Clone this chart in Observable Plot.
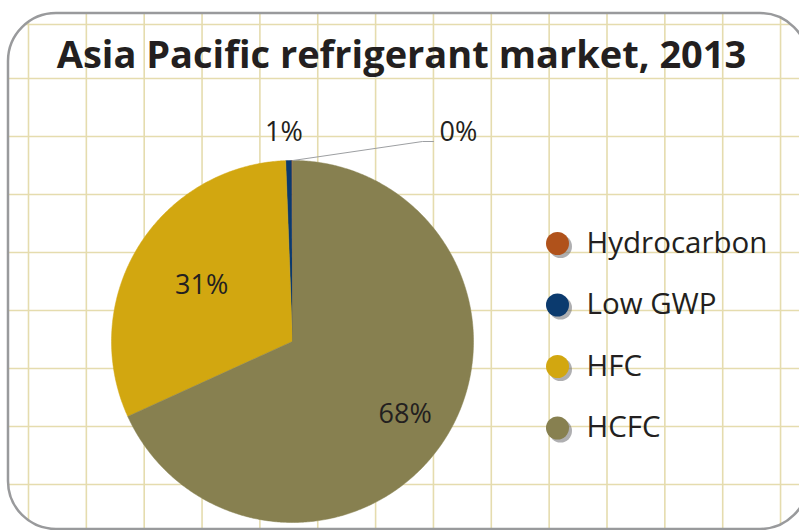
<!DOCTYPE html>
<html><head><meta charset="utf-8">
<script src="https://cdn.jsdelivr.net/npm/d3@7"></script>
<script src="https://cdn.jsdelivr.net/npm/@observablehq/plot@0.6"></script>
<style>
html,body{margin:0;padding:0;background:#fff;overflow:hidden;}
</style></head><body><div id="chart"></div>
<script>
// ---- data ----
const categories = ["Hydrocarbon", "Low GWP", "HFC", "HCFC"];
const shares = [0.1, 0.5, 31.2, 68.2];
const pctLabels = ["0%", "1%", "31%", "68%"];
const colors = ["#b0521b", "#0b3a6e", "#d2a710", "#878050"];
const titleText = "Asia Pacific refrigerant market, 2013";

// ---- layout ----
const W = 799, H = 530;
const cx = 292, cy = 341, R = 181;
const box = {x1: 8, x2: 808, y1: 13, y2: 529, r: 48};
const gridX = d3.range(14).map(i => 28 + i * 57.85);
const gridY = [24, 78, 136, 194, 252, 310, 368, 426, 484];
const labelRadius = [1.16, 1.155, 0.59, 0.74];
const font = "'Open Sans', sans-serif";
const ink = "#231f20";

// grid extents clipped to the rounded box
function vExtent(x) {
  let d = 0;
  if (x < box.x1 + box.r) d = box.x1 + box.r - x;
  else if (x > box.x2 - box.r) d = x - (box.x2 - box.r);
  const off = d > 0 ? box.r - Math.sqrt(Math.max(0, box.r * box.r - d * d)) : 0;
  return [box.y1 + off, box.y2 - off];
}
function hExtent(y) {
  let d = 0;
  if (y < box.y1 + box.r) d = box.y1 + box.r - y;
  else if (y > box.y2 - box.r) d = y - (box.y2 - box.r);
  const off = d > 0 ? box.r - Math.sqrt(Math.max(0, box.r * box.r - d * d)) : 0;
  return [box.x1 + off, Math.min(W, box.x2 - off)];
}
const vLines = gridX.map(x => { const [a, b] = vExtent(x); return {x, y1: a, y2: b}; });
const hLines = gridY.map(y => { const [a, b] = hExtent(y); return {y, x1: a, x2: b}; });

// pie geometry (counter-clockwise from 12 o'clock, legend order)
const arcs = d3.pie().sort(null).startAngle(0).endAngle(-2 * Math.PI)(shares);
const slices = arcs.map((p, i) => {
  const a0 = p.startAngle, a1 = p.endAngle;
  const n = Math.max(2, Math.ceil(Math.abs(a1 - a0) / (Math.PI / 360)));
  const pts = [{x: cx, y: cy}];
  for (let j = 0; j <= n; j++) {
    const a = a0 + (a1 - a0) * j / n;
    pts.push({x: cx + R * Math.sin(a), y: cy - R * Math.cos(a)});
  }
  pts.push({x: cx, y: cy});
  return {key: categories[i], color: colors[i], pts, mid: (a0 + a1) / 2};
});

const inner = slices.map((s, i) => ({
  label: pctLabels[i],
  x: cx + R * labelRadius[i] * Math.sin(s.mid),
  y: cy - R * labelRadius[i] * Math.cos(s.mid),
  i
}));
// outside labels
const lowLab = inner[1];
const hydroMid = slices[0].mid;
const leader = [
  {x: cx + R * Math.sin(hydroMid) + 1, y: cy - R * Math.cos(hydroMid)},
  {x: cx + 130, y: cy - 200},
  {x: cx + 141, y: cy - 200}
];
const hydroLab = {label: pctLabels[0], x: cx + 147, y: cy - 209};

const legend = categories.map((c, i) => ({c, color: colors[i], y: 243 + i * 61.5}));

const marks = [
  Plot.ruleX(vLines, {x: "x", y1: "y1", y2: "y2", stroke: "#e5dcae", strokeWidth: 1.6}),
  Plot.ruleY(hLines, {y: "y", x1: "x1", x2: "x2", stroke: "#e5dcae", strokeWidth: 1.6}),
  Plot.rect([box], {x1: "x1", x2: "x2", y1: "y1", y2: "y2", rx: box.r, fill: "none", stroke: "#999a9c", strokeWidth: 2.5}),
  Plot.text([titleText], {x: () => 401, y: () => 67, text: d => d, textAnchor: "middle", lineAnchor: "bottom",
    fontFamily: font, fontWeight: "bold", fontSize: 38, fill: ink}),
  ...slices.map(s => Plot.line(s.pts, {x: "x", y: "y", fill: s.color, stroke: s.color, strokeWidth: 0.5, curve: "linear"})),
  Plot.line(leader, {x: "x", y: "y", stroke: "#9d9fa2", strokeWidth: 1}),
  Plot.text(inner.slice(2), {x: "x", y: "y", text: "label", textAnchor: "middle", lineAnchor: "middle",
    fontFamily: font, fontSize: 27, fill: ink}),
  Plot.text([lowLab], {x: "x", y: "y", dx: -4, text: "label", textAnchor: "middle", lineAnchor: "middle",
    fontFamily: font, fontSize: 27, fill: ink}),
  Plot.text([hydroLab], {x: "x", y: "y", text: "label", textAnchor: "start", lineAnchor: "middle",
    fontFamily: font, fontSize: 27, fill: ink}),
  Plot.dot(legend, {x: () => 560, y: "y", dy: 3, r: 11.5, fill: "#6d6e71", fillOpacity: 0.55, stroke: "none"}),
  Plot.dot(legend, {x: () => 557, y: "y", r: 11.5, fill: "color", stroke: "none"}),
  Plot.text(legend, {x: () => 586, y: "y", text: "c", textAnchor: "start", lineAnchor: "middle",
    fontFamily: font, fontSize: 29.5, fill: ink})
];

const chart = Plot.plot({
  width: W, height: H, margin: 0,
  x: {domain: [0, W], range: [0, W], axis: null},
  y: {domain: [0, H], range: [0, H], axis: null},
  color: {type: "identity"},
  style: {background: "#fff"},
  marks
});
document.getElementById("chart").appendChild(chart);
</script>
</body></html>
